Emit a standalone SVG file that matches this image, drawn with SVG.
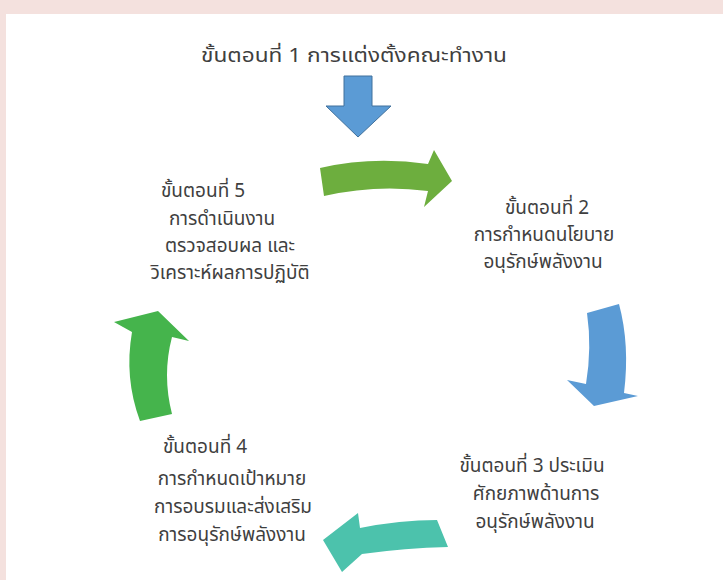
<svg xmlns="http://www.w3.org/2000/svg" width="723" height="580" viewBox="0 0 723 580">
<style>
.t{font-family:"Noto Sans Thai","Noto Sans","Liberation Sans",sans-serif;font-size:19px;fill:#3f3f3f;text-anchor:middle}
.blue{fill:#5B9BD5}
</style>
<rect x="0" y="0" width="723" height="580" fill="#f4e1de"/>
<rect x="6" y="14" width="717" height="566" fill="#ffffff"/>
<g id="step1">
<text class="t" x="354" y="62" textLength="306" lengthAdjust="spacingAndGlyphs">ขั้นตอนที่ 1 การแต่งตั้งคณะทำงาน</text>
</g>
<g id="step2">
<text class="t" x="547" y="214">ขั้นตอนที่ 2</text>
<text class="t" x="544" y="241">การกำหนดนโยบาย</text>
<text class="t" x="543" y="268">อนุรักษ์พลังงาน</text>
</g>
<g id="step3">
<text class="t" x="532" y="472">ขั้นตอนที่ 3 ประเมิน</text>
<text class="t" x="536" y="500">ศักยภาพด้านการ</text>
<text class="t" x="535" y="528">อนุรักษ์พลังงาน</text>
</g>
<g id="step4">
<text class="t" x="205" y="453">ขั้นตอนที่ 4</text>
<text class="t" x="232" y="485">การกำหนดเป้าหมาย</text>
<text class="t" x="233" y="513">การอบรมและส่งเสริม</text>
<text class="t" x="232" y="541">การอนุรักษ์พลังงาน</text>
</g>
<g id="step5">
<text class="t" x="203" y="197">ขั้นตอนที่ 5</text>
<text class="t" x="222" y="225">การดำเนินงาน</text>
<text class="t" x="230" y="252">ตรวจสอบผล และ</text>
<text class="t" x="230" y="279">วิเคราะห์ผลการปฏิบัติ</text>
</g>
<g id="connectors">
<path class="blue" stroke="#41719C" stroke-width="1" d="M344 76 L372 76 L372 106 L391 106 L358 137 L326 106 L344 106 Z"/>
<path fill="#6DAE3E" d="M320 168 Q372 156 428 164 L434 150 L452 181 L424 207 L428 191 Q376 184 324 196 Z"/>
<path class="blue" d="M587 313 L619 304 Q630 345 624 393 L638 396 L594 406 L567 380 L586 384 Q592 348 587 313 Z"/>
<path fill="#4CC2AC" d="M437 520 Q400 520 360 528 L358 513 L323 540 L342 572 L362 554 Q405 548 448 547 Z"/>
<path fill="#45B44C" d="M158 311 L189 341 L172 337 Q162 375 172 414 L140 421 Q124 378 132 332 L114 322 Z"/>
</g>
</svg>
